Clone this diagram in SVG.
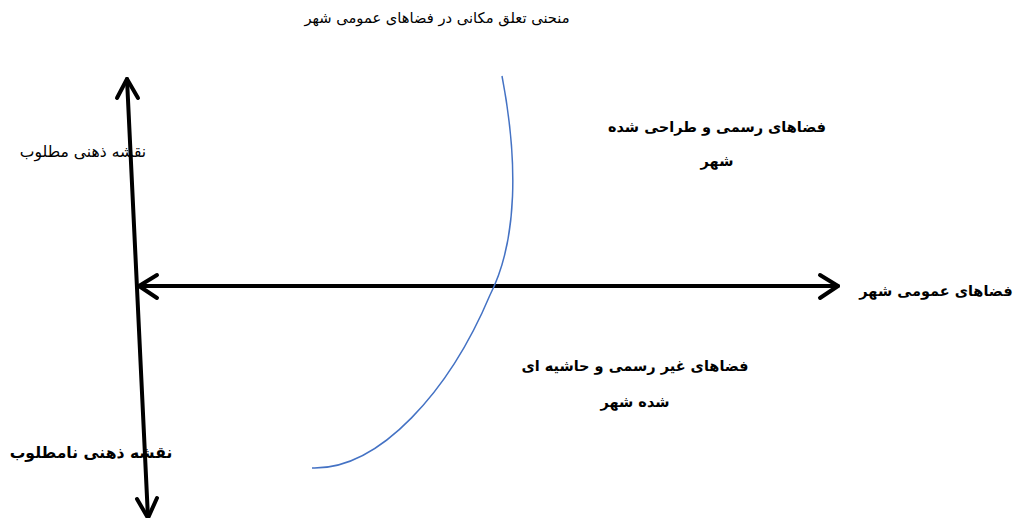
<svg xmlns="http://www.w3.org/2000/svg" width="1016" height="518" viewBox="0 0 1016 518">
<style>
text{font-family:"DejaVu Sans","Noto Sans",sans-serif;fill:#000;direction:rtl;text-anchor:middle}
.b{font-weight:bold;font-size:14.5px}
.n{font-size:14.7px}
.ax{stroke:#000;stroke-width:4;fill:none;stroke-linecap:round;stroke-linejoin:round}
</style>
<rect width="1016" height="518" fill="#fff"/>
<g id="connectors">
<path class="ax" d="M127,79 L148,518"/>
<path class="ax" d="M117,98 L127,79 L138,98"/>
<path class="ax" d="M137,499 L148,518 L157,498"/>
<path class="ax" d="M139,286 L838,286"/>
<path class="ax" d="M157,275 L139,286 L157,298"/>
<path class="ax" d="M820,275 L838,286 L820,298"/>
<path d="M502,76 C518,160 518,240 490,295 C450,390 380,470 312,468" fill="none" stroke="#4472C4" stroke-width="1.5"/>
</g>
<g id="title"><text class="n" x="437" y="23">منحنی تعلق مکانی  در فضاهای عمومی شهر</text></g>
<g id="good"><text class="n" x="83" y="157" style="font-size:15.6px">نقشه ذهنی مطلوب</text></g>
<g id="formal"><text class="b" x="717" y="132">فضاهای رسمی و طراحی شده</text><text class="b" x="717" y="166">شهر</text></g>
<g id="public"><text class="b" x="936" y="296">فضاهای عمومی شهر</text></g>
<g id="informal"><text class="b" x="635" y="371">فضاهای غیر رسمی و حاشیه ای</text><text class="b" x="635" y="407">شده شهر</text></g>
<g id="bad"><text class="b" x="91" y="458" style="font-size:15.6px">نقشه ذهنی نامطلوب</text></g>
</svg>
